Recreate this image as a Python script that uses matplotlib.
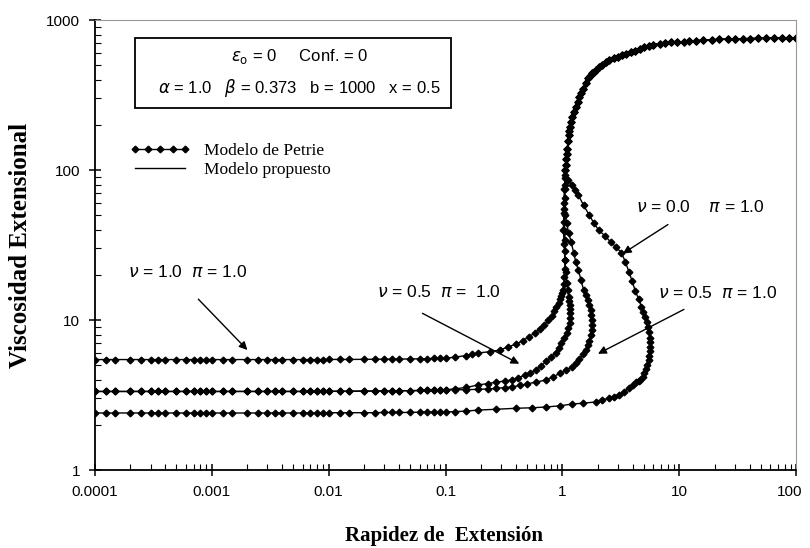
import matplotlib.pyplot as plt
from matplotlib.lines import Line2D
from matplotlib.patches import Rectangle
from matplotlib.transforms import ScaledTranslation
from matplotlib.ticker import LogLocator, FuncFormatter, NullFormatter

# rapidez de extension en la parte plana (comun a todas las curvas)
x_flat = [0.0001, 0.000125, 0.00015, 0.0002, 0.00025, 0.0003, 0.00035, 0.0004,
          0.0005, 0.0006, 0.0007, 0.0008, 0.0009,
          0.001, 0.00125, 0.0015, 0.002, 0.0025, 0.003, 0.0035, 0.004,
          0.005, 0.006, 0.007, 0.008, 0.009,
          0.01, 0.0125, 0.015, 0.02, 0.025, 0.03, 0.035, 0.04,
          0.05, 0.06, 0.07, 0.08, 0.09, 0.1]

yA_flat = [5.45, 5.45, 5.45, 5.45, 5.45, 5.45, 5.45, 5.45, 5.45, 5.45, 5.45, 5.45, 5.45,
           5.45, 5.45, 5.45, 5.45, 5.45, 5.45, 5.45, 5.45, 5.45, 5.45, 5.45, 5.45, 5.45,
           5.46, 5.46, 5.46, 5.47, 5.47, 5.48, 5.48, 5.49, 5.5, 5.51, 5.52, 5.54, 5.55, 5.57]
yB_flat = [3.34, 3.34, 3.34, 3.34, 3.34, 3.34, 3.34, 3.34, 3.34, 3.34, 3.34, 3.34, 3.34,
           3.34, 3.34, 3.34, 3.34, 3.34, 3.34, 3.34, 3.34, 3.34, 3.34, 3.34, 3.34, 3.34,
           3.35, 3.35, 3.35, 3.36, 3.36, 3.37, 3.37, 3.38, 3.38, 3.39, 3.4, 3.41, 3.41, 3.42]
yC_flat = [2.4, 2.4, 2.4, 2.4, 2.4, 2.4, 2.4, 2.4, 2.4, 2.4, 2.4, 2.4, 2.4,
           2.4, 2.4, 2.4, 2.4, 2.4, 2.4, 2.4, 2.4, 2.4, 2.4, 2.4, 2.4, 2.4,
           2.41, 2.41, 2.41, 2.41, 2.41, 2.42, 2.42, 2.42, 2.42, 2.43, 2.43, 2.43, 2.44, 2.44]

# nu = 1.0, pi = 1.0
xA_rise = [0.12, 0.15, 0.17, 0.19, 0.24, 0.29, 0.34, 0.4, 0.46, 0.515,
           0.58, 0.64, 0.7, 0.76, 0.81, 0.85, 0.89, 0.926, 0.955, 0.98,
           1.0, 1.02, 1.03, 1.04, 1.05, 1.05, 1.05, 1.05, 1.045, 1.04,
           1.035, 1.03, 1.04, 1.05]
yA_rise = [5.65, 5.8, 5.9, 6.03, 6.15, 6.3, 6.6, 6.9, 7.3, 7.7,
           8.2, 8.7, 9.3, 10, 10.7, 11.4, 12.2, 13, 13.8, 14.5,
           15.1, 15.8, 17.5, 19.4, 22, 25, 29, 34, 39, 45,
           52, 60, 75, 88]

# nu = 0.5, pi = 1.0 (flecha central)
xB1_rise = [0.12, 0.15, 0.19, 0.23, 0.27, 0.32, 0.37, 0.42, 0.48, 0.53,
            0.59, 0.66, 0.73, 0.8, 0.875, 0.93, 0.98, 1.04, 1.09, 1.12,
            1.15, 1.165, 1.17, 1.16, 1.15, 1.14, 1.13, 1.11, 1.09, 1.07,
            1.05, 1.035, 1.02, 1.03, 1.05]
yB1_rise = [3.48, 3.55, 3.69, 3.77, 3.85, 3.92, 3.98, 4.12, 4.3, 4.45,
            4.64, 4.95, 5.3, 5.65, 6.03, 6.5, 7.0, 7.6, 8.2, 8.9,
            9.6, 10.3, 11.1, 11.8, 12.6, 13.4, 14.2, 15.8, 17.6, 21,
            25, 32, 40, 55, 75]

# nu = 0.5, pi = 1.0 (flecha derecha)
xB2_rise = [0.12, 0.15, 0.19, 0.23, 0.27, 0.32, 0.37, 0.43, 0.5, 0.6,
            0.72, 0.83, 0.95, 1.07, 1.2, 1.3, 1.4, 1.5, 1.58, 1.65,
            1.7, 1.75, 1.78, 1.79, 1.78, 1.76, 1.74, 1.7, 1.65, 1.58,
            1.52, 1.44, 1.37, 1.3, 1.25, 1.19, 1.13, 1.09, 1.06, 1.05,
            1.05]
yB2_rise = [3.43, 3.43, 3.45, 3.47, 3.5, 3.54, 3.58, 3.66, 3.75, 3.86,
            3.98, 4.18, 4.4, 4.62, 4.86, 5.15, 5.5, 5.9, 6.3, 6.8,
            7.3, 7.9, 8.6, 9.3, 10, 10.8, 11.7, 12.6, 13.5, 14.6,
            15.8, 18.5, 21.5, 24.5, 28, 33, 38, 44, 50, 65,
            80]

# nu = 0.0, pi = 1.0
xC_rise = [0.12, 0.15, 0.19, 0.27, 0.4, 0.55, 0.72, 0.95, 1.2, 1.5,
           1.92, 2.2, 2.5, 2.75, 3.02, 3.35, 3.7, 4.0, 4.3, 4.5,
           4.65, 4.85, 5.0, 5.2, 5.34, 5.45, 5.55, 5.62, 5.66, 5.65,
           5.6, 5.5, 5.4, 5.25, 5.1, 4.92, 4.74, 4.5, 4.2, 3.95,
           3.7, 3.45, 3.2, 2.9, 2.6, 2.3, 2.04, 1.85, 1.7, 1.52,
           1.37, 1.28, 1.2, 1.12, 1.06]
yC_rise = [2.45, 2.47, 2.51, 2.54, 2.58, 2.6, 2.63, 2.68, 2.75, 2.79,
           2.84, 2.93, 3.02, 3.08, 3.16, 3.32, 3.52, 3.68, 3.86, 3.93,
           4.0, 4.2, 4.4, 4.7, 5.0, 5.4, 5.8, 6.2, 6.6, 7.1,
           7.6, 8.3, 9.0, 9.7, 10.5, 11.3, 12.2, 13.8, 15.6, 18.2,
           21, 24.5, 28, 30.5, 33, 36.5, 39.8, 44.5, 50, 58,
           68, 74, 80, 86, 92.6]

# tronco comun a alta rapidez
x_trunk = [1.06, 1.07, 1.08, 1.09, 1.1, 1.12, 1.13, 1.14, 1.15, 1.18,
           1.2, 1.25, 1.3, 1.35, 1.4, 1.45, 1.5, 1.58, 1.67, 1.73,
           1.8, 1.86, 1.92, 2.05, 2.2, 2.35, 2.5, 2.75, 3.0, 3.25,
           3.5, 3.85, 4.2, 4.6, 5.0, 5.5, 6.0, 6.8, 7.6, 8.5,
           9.5, 11, 12, 14, 16, 19, 22, 26, 30, 35,
           40, 47, 55, 65, 75, 87, 100]
y_trunk = [100, 108, 118, 128, 138, 155, 170, 182, 194, 210,
           225, 245, 263, 285, 305, 325, 345, 378, 410, 425,
           440, 452, 464, 485, 505, 523, 540, 556, 570, 580,
           590, 608, 625, 643, 660, 673, 685, 694, 703, 708,
           712, 717, 720, 727, 733, 738, 742, 745, 748, 750,
           752, 754, 755, 756, 757, 758, 760]

x_ticks = [0.0001, 0.001, 0.01, 0.1, 1, 10, 100]
y_ticks = [1, 10, 100, 1000]

curvas = [
    (x_flat + xA_rise + x_trunk, yA_flat + yA_rise + y_trunk),
    (x_flat + xB1_rise + x_trunk, yB_flat + yB1_rise + y_trunk),
    (x_flat + xB2_rise + x_trunk, yB_flat + yB2_rise + y_trunk),
    (x_flat + xC_rise + x_trunk, yC_flat + yC_rise + y_trunk),
]

fig = plt.figure(figsize=(8.1, 5.48), dpi=100)
ax = fig.add_axes([0.117, 0.1423, 0.866, 0.8212])

for xs, ys in curvas:
    ax.plot(xs, ys, color='k', lw=1.0, marker='D', ms=3.4, mec='k', mfc='k')

ax.set_xscale('log')
ax.set_yscale('log')
ax.set_xlim(0.0001, 100)
ax.set_ylim(1, 1000)
ax.set_xticks(x_ticks)
ax.set_yticks(y_ticks)

fmt = FuncFormatter(lambda v, p: '%g' % v)
ax.xaxis.set_major_formatter(fmt)
ax.yaxis.set_major_formatter(fmt)
ax.xaxis.set_minor_locator(LogLocator(base=10, subs=range(2, 10)))
ax.yaxis.set_minor_locator(LogLocator(base=10, subs=range(2, 10)))
ax.xaxis.set_minor_formatter(NullFormatter())
ax.yaxis.set_minor_formatter(NullFormatter())
ax.tick_params(which='major', direction='inout', length=9, width=1.1,
               labelsize=11, pad=6)
ax.tick_params(which='minor', direction='in', length=4, width=0.8)

for s in ['left', 'bottom']:
    ax.spines[s].set_linewidth(1.3)
for s in ['top', 'right']:
    ax.spines[s].set_color('#999999')
    ax.spines[s].set_linewidth(0.8)

ax.set_xlabel('Rapidez de  Extensión', family='Liberation Serif',
              fontweight='bold', fontsize=15)
ax.set_ylabel('Viscosidad Extensional', family='Liberation Serif',
              fontweight='bold', fontsize=18)
ax.xaxis.set_label_coords(0.498, -0.125)
ax.yaxis.set_label_coords(-0.09, 0.5)

# cuadro de parametros
ax.add_patch(Rectangle((0.057, 0.804), 0.451, 0.156, transform=ax.transAxes,
                       fc='white', ec='k', lw=1.3, zorder=3))
ax.text(0.2916, 0.918, r'$\varepsilon_{\rm o}$ = 0     Conf. = 0',
        transform=ax.transAxes, ha='center', va='center', fontsize=12,
        family='Liberation Sans', zorder=4)
ax.text(0.2916, 0.849, r'$\alpha$ = 1.0   $\beta$ = 0.373   b = 1000   x = 0.5',
        transform=ax.transAxes, ha='center', va='center', fontsize=12,
        family='Liberation Sans', zorder=4)

# leyenda
handles = [Line2D([], [], color='k', lw=1.0, marker='D', ms=3.4),
           Line2D([], [], color='k', lw=1.0)]
ax.legend(handles, ['Modelo de Petrie', 'Modelo propuesto'], loc='upper left',
          bbox_to_anchor=(0.05, 0.727), frameon=False, numpoints=5,
          handlelength=3.5, handletextpad=0.8, borderpad=0, borderaxespad=0,
          labelspacing=0.15, prop={'family': 'Liberation Serif', 'size': 12.5})

# etiquetas con flechas
flecha = dict(arrowstyle='-|>', color='k', lw=1.0, mutation_scale=12)
ax.text(1.91e-4, 20.9, r'$\nu$ = 1.0  $\pi$ = 1.0', ha='left', va='center',
        fontsize=12.5, family='Liberation Sans')
ax.annotate('', xy=(2.1e-3, 6.12), xytext=(7.4e-4, 14.2), arrowprops=flecha)

ax.text(0.026, 15.4, r'$\nu$ = 0.5  $\pi$ =  1.0', ha='left', va='center',
        fontsize=12.5, family='Liberation Sans')
ax.annotate('', xy=(0.449, 5.01), xytext=(0.0605, 11.3), arrowprops=flecha)

ax.text(4.3, 56.7, r'$\nu$ = 0.0    $\pi$ = 1.0', ha='left', va='center',
        fontsize=12.5, family='Liberation Sans')
ax.annotate('', xy=(3.14, 27.1), xytext=(8.37, 44.3), arrowprops=flecha)

ax.text(6.6, 15.1, r'$\nu$ = 0.5  $\pi$ = 1.0', ha='left', va='center',
        fontsize=12.5, family='Liberation Sans')
ax.annotate('', xy=(1.92, 5.84), xytext=(11.5, 12.0), arrowprops=flecha)

fig.canvas.draw()
for lab in ax.get_xticklabels() + ax.get_yticklabels():
    lab.set_family('Liberation Sans')
    if lab.get_text() == '100' and lab in ax.get_xticklabels():
        lab.set_transform(lab.get_transform() +
                          ScaledTranslation(-5 / 72, 0, fig.dpi_scale_trans))

fig.savefig('out.png', dpi=100)
